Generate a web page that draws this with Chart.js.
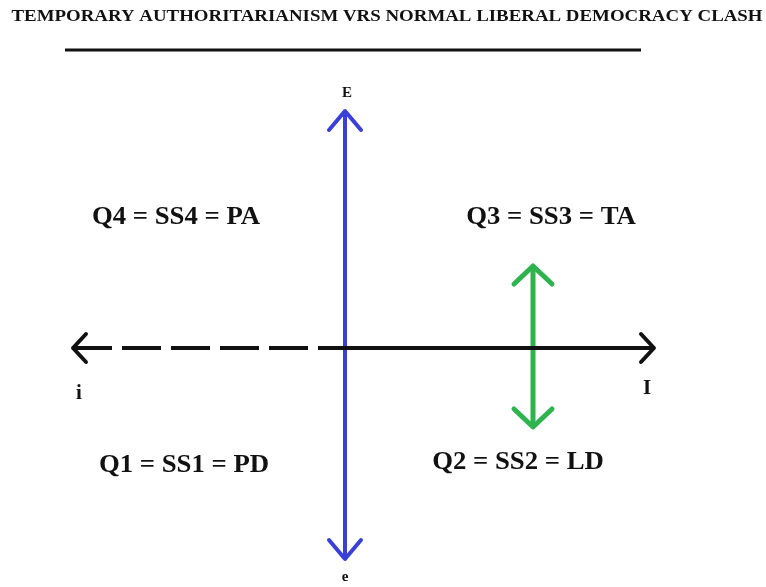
<!DOCTYPE html>
<html>
<head>
<meta charset="utf-8">
<script src="https://cdn.jsdelivr.net/npm/chart.js@4/dist/chart.umd.min.js"></script>
<style>
  html, body { margin: 0; padding: 0; background: #fff; }
  #wrap { width: 766px; height: 587px; }
</style>
</head>
<body>
<div id="wrap"><canvas id="diagram" width="766" height="587"></canvas></div>
<script>
(function () {
  "use strict";

  // diagram content (x, y on the 766 x 587 grid of the picture, y downwards)
  var titleText = "TEMPORARY AUTHORITARIANISM VRS NORMAL LIBERAL DEMOCRACY CLASH";
  var ruleLine = [[65, 50], [641, 50]];
  var axisE = [[345, 111], [345, 559]];
  var axisIDashed = [[73, 348], [334, 348]];
  var axisISolid = [[334, 348], [654, 348]];
  var clashArrow = [[533, 266], [533, 427]];
  var axisLetters = ["E", "e", "i", "I"];
  var axisLetterPoints = [[347, 93], [345, 577], [79, 394], [647, 389]];
  var quadrantLabels = ["Q4 = SS4 = PA", "Q3 = SS3 = TA", "Q1 = SS1 = PD", "Q2 = SS2 = LD"];
  var quadrantPoints = [[176, 218], [551, 218], [184, 466], [518, 463]];

  function toPoints(list) {
    return list.map(function (p) {
      return { x: p[0], y: p[1] };
    });
  }

  function lineSet(list, color, width, extra) {
    var ds = {
      data: toPoints(list),
      showLine: true,
      borderColor: color,
      backgroundColor: color,
      borderWidth: width,
      pointRadius: 0,
      pointHoverRadius: 0,
      borderCapStyle: "butt"
    };
    Object.keys(extra || {}).forEach(function (k) {
      ds[k] = extra[k];
    });
    return ds;
  }

  function drawHead(ctx, from, tip, len, half) {
    var dx = tip.x - from.x;
    var dy = tip.y - from.y;
    var d = Math.sqrt(dx * dx + dy * dy) || 1;
    var ux = dx / d;
    var uy = dy / d;
    var bx = tip.x - ux * len;
    var by = tip.y - uy * len;
    ctx.beginPath();
    ctx.moveTo(bx - uy * half, by + ux * half);
    ctx.lineTo(tip.x, tip.y);
    ctx.lineTo(bx + uy * half, by - ux * half);
    ctx.stroke();
  }

  var arrowHeads = {
    id: "arrowHeads",
    afterDatasetsDraw: function (chart) {
      var ctx = chart.ctx;
      chart.data.datasets.forEach(function (ds, i) {
        if (!ds.heads) return;
        var pts = chart.getDatasetMeta(i).data;
        ctx.save();
        ctx.strokeStyle = ds.borderColor;
        ctx.lineWidth = ds.headWidth || ds.borderWidth;
        ctx.lineCap = "round";
        ctx.lineJoin = "round";
        ds.heads.forEach(function (end) {
          if (end === "start") drawHead(ctx, pts[1], pts[0], ds.headLen, ds.headHalf);
          else drawHead(ctx, pts[pts.length - 2], pts[pts.length - 1], ds.headLen, ds.headHalf);
        });
        ctx.restore();
      });
    }
  };

  function drawText(ctx, text, x, y, font, stretch) {
    ctx.save();
    ctx.font = font;
    ctx.textAlign = "center";
    ctx.textBaseline = "middle";
    ctx.translate(x, y);
    ctx.scale(stretch, 1);
    ctx.fillText(text, 0, 0);
    ctx.restore();
  }

  var diagramText = {
    id: "diagramText",
    afterDraw: function (chart) {
      var ctx = chart.ctx;
      var sx = chart.scales.x;
      var sy = chart.scales.y;
      ctx.fillStyle = "#111";
      drawText(ctx, titleText, sx.getPixelForValue(387), sy.getPixelForValue(17),
        "bold 16px 'Liberation Serif', 'Times New Roman', serif", 1.18);
      axisLetters.forEach(function (t, i) {
        var p = axisLetterPoints[i];
        var size = i < 2 ? 15 : 21;
        drawText(ctx, t, sx.getPixelForValue(p[0]), sy.getPixelForValue(p[1]),
          "bold " + size + "px 'Liberation Serif', serif", 1);
      });
      quadrantLabels.forEach(function (t, i) {
        var p = quadrantPoints[i];
        drawText(ctx, t, sx.getPixelForValue(p[0]), sy.getPixelForValue(p[1]),
          "bold 25px 'Liberation Serif', serif", 1.07);
      });
    }
  };

  var blue = "#3a3fd8";
  var green = "#2fb34f";
  var black = "#111111";

  new Chart(document.getElementById("diagram"), {
    type: "scatter",
    data: {
      datasets: [
        lineSet(ruleLine, black, 3),
        lineSet(axisIDashed, black, 4, {
          borderDash: [39, 10],
          heads: ["start"], headLen: 13, headHalf: 14
        }),
        lineSet(axisISolid, black, 4, {
          heads: ["end"], headLen: 13, headHalf: 14
        }),
        lineSet(axisE, blue, 4, {
          heads: ["start", "end"], headLen: 19, headHalf: 16
        }),
        lineSet(clashArrow, green, 5, {
          heads: ["start", "end"], headLen: 18, headHalf: 19
        })
      ]
    },
    options: {
      responsive: false,
      animation: false,
      devicePixelRatio: 1,
      layout: { padding: 0 },
      events: [],
      plugins: {
        legend: { display: false },
        title: { display: false },
        tooltip: { enabled: false }
      },
      scales: {
        x: { type: "linear", min: 0, max: 766, display: false },
        y: { type: "linear", min: 0, max: 587, reverse: true, display: false }
      }
    },
    plugins: [arrowHeads, diagramText]
  });
})();
</script>
</body>
</html>
